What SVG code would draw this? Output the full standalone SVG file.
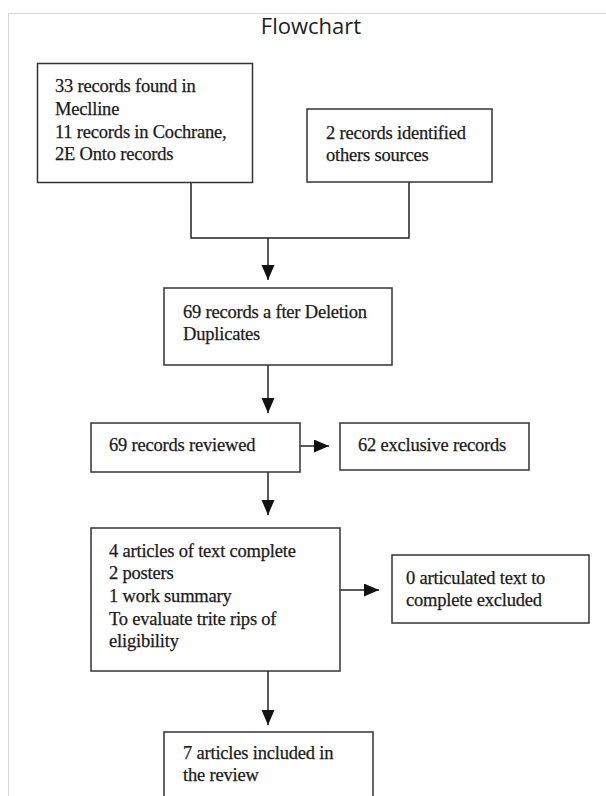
<svg xmlns="http://www.w3.org/2000/svg" width="606" height="796" viewBox="0 0 606 796">
<defs>
<style>
.box{fill:#fff;stroke:#333;stroke-width:1.5}
.t{font-family:"Liberation Serif","Times New Roman",serif;font-size:18.5px;fill:#1a1a1a;stroke:#1a1a1a;stroke-width:0.25;letter-spacing:-0.2px}
.c{fill:none;stroke:#222;stroke-width:1.5}
.title{font-family:"Open Sans","Noto Sans",sans-serif;font-size:22px;fill:#1e1e1e}
</style>
<marker id="ah" markerUnits="userSpaceOnUse" markerWidth="16" markerHeight="16" viewBox="0 0 16 16" refX="15" refY="6.5" orient="auto">
<path d="M0,0 L15,6.5 L0,13 Z" fill="#111"/>
</marker>
</defs>
<rect x="0" y="0" width="606" height="796" fill="#fff"/>
<path d="M8.5,796 V13.5 H606" fill="none" stroke="#d4d4d4" stroke-width="1"/>
<text class="title" x="311" y="34" text-anchor="middle">Flowchart</text>

<g id="connectors">
<path class="c" d="M191,182 V238 H409 V182"/>
<path class="c" d="M268,238 V280" marker-end="url(#ah)"/>
<path class="c" d="M268,365 V413" marker-end="url(#ah)"/>
<path class="c" d="M300,446 H329" marker-end="url(#ah)"/>
<path class="c" d="M268,472 V515" marker-end="url(#ah)"/>
<path class="c" d="M340,590 H379" marker-end="url(#ah)"/>
<path class="c" d="M268,671 V725" marker-end="url(#ah)"/>
</g>

<g id="n1">
<rect class="box" x="37.5" y="63.5" width="215" height="119"/>
<text class="t" x="55" y="92">33 records found in</text>
<text class="t" x="55" y="115">Meclline</text>
<text class="t" x="55" y="138">11 records in Cochrane,</text>
<text class="t" x="55" y="160">2E Onto records</text>
</g>

<g id="n2">
<rect class="box" x="307" y="109" width="185" height="73"/>
<text class="t" x="326" y="139">2 records identified</text>
<text class="t" x="326" y="161">others sources</text>
</g>

<g id="n3">
<rect class="box" x="164" y="288" width="228" height="77"/>
<text class="t" x="183" y="318">69 records a fter Deletion</text>
<text class="t" x="183" y="340">Duplicates</text>
</g>

<g id="n4">
<rect class="box" x="91" y="423" width="209" height="49"/>
<text class="t" x="109" y="451">69 records reviewed</text>
</g>

<g id="n5">
<rect class="box" x="340" y="423" width="189" height="47"/>
<text class="t" x="358" y="451">62 exclusive records</text>
</g>

<g id="n6">
<rect class="box" x="91" y="528" width="249" height="143"/>
<text class="t" x="109" y="557">4 articles of text complete</text>
<text class="t" x="109" y="579">2 posters</text>
<text class="t" x="109" y="602">1 work summary</text>
<text class="t" x="109" y="625">To evaluate trite rips of</text>
<text class="t" x="109" y="647">eligibility</text>
</g>

<g id="n7">
<rect class="box" x="392" y="555" width="197" height="68"/>
<text class="t" x="406" y="584">0 articulated text to</text>
<text class="t" x="406" y="606">complete excluded</text>
</g>

<g id="n8">
<rect class="box" x="164" y="732" width="209" height="80"/>
<text class="t" x="183" y="759">7 articles included in</text>
<text class="t" x="183" y="781">the review</text>
</g>
</svg>
